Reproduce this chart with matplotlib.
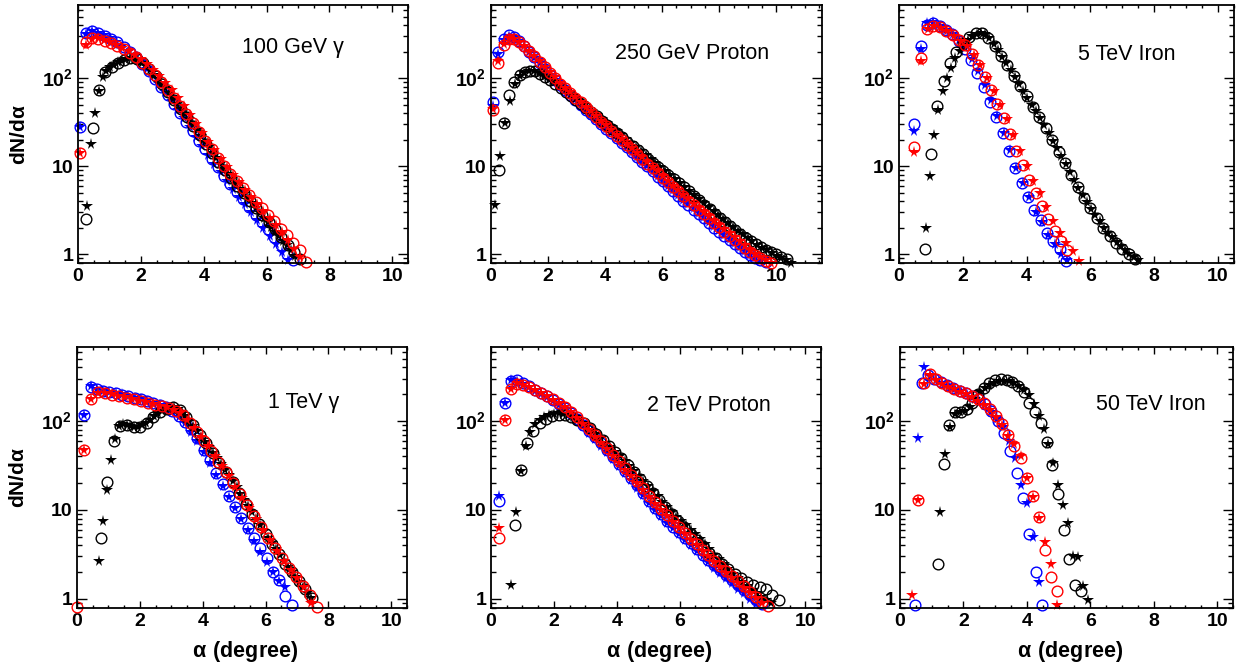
import matplotlib
matplotlib.use('Agg')
import matplotlib.pyplot as plt
from matplotlib.ticker import MultipleLocator, FixedLocator, FixedFormatter, LogLocator, NullFormatter

plt.rcParams['font.family'] = ['Liberation Sans', 'DejaVu Sans']
plt.rcParams['font.weight'] = 'bold'
plt.rcParams['mathtext.fontset'] = 'custom'
plt.rcParams['mathtext.rm'] = 'Liberation Sans'
plt.rcParams['mathtext.bf'] = 'Liberation Sans:bold'

# Every series: (first bin centre, bin width, dN/dalpha per bin)

# 100 GeV gamma
g100_blue_o = (0.05, 0.20, [28, 325, 345, 330, 305, 280, 255, 228, 200, 172, 145, 120, 98, 80, 64, 51, 40, 32,
                            25, 19.5, 15.5, 12.2, 9.8, 7.8, 6.3, 5.1, 4.2, 3.4, 2.8, 2.3, 1.9, 1.55, 1.25, 1.0, 0.85])
g100_blue_s = (0.05, 0.195, [28, 320, 340, 330, 308, 283, 258, 232, 205, 178, 152, 127, 105, 86, 69, 55, 44, 35,
                             27.5, 21.5, 17, 13.5, 10.7, 8.5, 6.8, 5.5, 4.5, 3.7, 3.0, 2.45, 2.0, 1.62, 1.3, 1.05, 0.86])
g100_red_o = (0.05, 0.20, [14, 255, 285, 282, 268, 250, 232, 212, 192, 172, 150, 128, 108, 90, 74, 60, 48, 39, 31,
                           24.5, 19.5, 15.5, 12.5, 10.0, 8.2, 6.8, 5.6, 4.7, 3.9, 3.3, 2.8, 2.35, 1.95, 1.65, 1.35, 1.1, 0.82])
g100_red_s = (0.05, 0.195, [14, 240, 280, 285, 272, 255, 238, 220, 202, 184, 165, 145, 125, 106, 89, 74, 60, 48, 38.5,
                            30.5, 24, 19, 15.2, 12.2, 9.8, 8.0, 6.6, 5.4, 4.5, 3.7, 3.1, 2.6, 2.15, 1.8, 1.45, 1.15, 0.93])
g100_black_o = (0.27, 0.20, [2.5, 27, 73, 118, 135, 150, 162, 170, 165, 148, 126, 105, 86, 70, 56, 45, 36, 28.5, 22.5,
                             17.8, 14, 11.2, 9, 7.3, 6.0, 4.9, 4.0, 3.3, 2.75, 2.3, 1.9, 1.55, 1.28, 1.05, 0.88])
g100_black_s = (0.28, 0.125, [3.5, 18, 40, 72, 103, 122, 133, 143, 151, 158, 164, 168, 167, 160, 150, 137, 124, 110,
                              98, 87, 77, 67, 58, 51, 44.5, 39, 34, 29.5, 25.5, 22, 19, 16.5, 14.2, 12.3, 10.7, 9.3,
                              8.1, 7.1, 6.2, 5.5, 4.85, 4.3, 3.8, 3.35, 2.95, 2.6, 2.3, 2.05, 1.8, 1.6, 1.42, 1.26,
                              1.1, 0.95])

# 250 GeV proton
p250_blue_o = (0.08, 0.18, [53, 200, 280, 312, 295, 265, 232, 200, 172, 148, 127, 110, 96, 84, 74, 65, 57, 50, 44, 39,
                            34, 30, 26.5, 23.5, 20.8, 18.4, 16.3, 14.4, 12.7, 11.2, 9.9, 8.7, 7.6, 6.7, 5.9, 5.2, 4.6,
                            4.05, 3.6, 3.2, 2.85, 2.55, 2.25, 2.0, 1.8, 1.6, 1.45, 1.3, 1.17, 1.06, 0.97, 0.9, 0.85, 0.82])
p250_blue_s = (0.08, 0.18, [48, 190, 275, 305, 292, 262, 230, 199, 171, 147, 126, 109, 95, 83, 73, 64, 56.5, 49.5,
                            43.5, 38.5, 34, 30, 26.5, 23.5, 20.8, 18.4, 16.3, 14.4, 12.7, 11.2, 9.9, 8.7, 7.7, 6.8, 6.0,
                            5.3, 4.7, 4.15, 3.7, 3.3, 2.95, 2.62, 2.33, 2.08, 1.86, 1.66, 1.49, 1.34, 1.2, 1.08, 0.98,
                            0.9, 0.84])
p250_red_o = (0.08, 0.18, [44, 150, 240, 280, 278, 258, 232, 205, 178, 154, 133, 115, 100, 87, 77, 68, 60, 53, 46.5,
                           41, 36, 32, 28.3, 25, 22.2, 19.7, 17.5, 15.5, 13.7, 12.1, 10.7, 9.5, 8.4, 7.4, 6.55, 5.8,
                           5.15, 4.55, 4.05, 3.6, 3.2, 2.85, 2.55, 2.27, 2.02, 1.8, 1.62, 1.45, 1.3, 1.17, 1.06, 0.97,
                           0.9, 0.84, 0.8])
p250_red_s = (0.08, 0.18, [45, 158, 245, 285, 280, 260, 233, 206, 180, 156, 135, 117, 102, 89, 78, 69, 61, 54, 47.5,
                           42, 37, 32.5, 29, 25.7, 22.8, 20.2, 18, 16, 14.2, 12.6, 11.1, 9.8, 8.7, 7.7, 6.8, 6.0, 5.3,
                           4.7, 4.2, 3.75, 3.35, 3.0, 2.68, 2.4, 2.15, 1.93, 1.73, 1.55, 1.39, 1.25, 1.12, 1.01, 0.92,
                           0.85, 0.8])
p250_black_o = (0.28, 0.18, [9.1, 31, 65, 90, 108, 118, 122, 120, 113, 104, 95, 86, 78, 70, 63, 57, 51, 46, 41.5, 37,
                             33, 29.5, 26.5, 23.8, 21.3, 19, 17, 15.2, 13.6, 12.2, 10.9, 9.8, 8.8, 7.9, 7.1, 6.4, 5.75,
                             5.15, 4.6, 4.1, 3.65, 3.25, 2.88, 2.56, 2.3, 2.07, 1.87, 1.69, 1.53, 1.4, 1.3, 1.2, 1.12,
                             1.05, 0.99, 0.93, 0.87])
p250_black_s = (0.15, 0.17, [3.6, 13, 31, 55, 85, 105, 116, 121, 120, 115, 107, 99, 91, 83, 76, 69, 63, 57, 52, 47,
                             42.5, 38.5, 34.5, 31, 28, 25.2, 22.7, 20.4, 18.4, 16.6, 15, 13.5, 12.1, 10.9, 9.8, 8.8,
                             7.9, 7.1, 6.4, 5.75, 5.2, 4.65, 4.2, 3.8, 3.4, 3.05, 2.75, 2.48, 2.25, 2.03, 1.85, 1.68,
                             1.53, 1.4, 1.28, 1.18, 1.1, 1.02, 0.96, 0.9, 0.85, 0.8])

# 5 TeV iron
f5_blue_o = (0.48, 0.198, [30, 235, 405, 425, 390, 350, 315, 265, 213, 160, 115, 80, 54, 36, 23.5, 15, 9.6, 6.4, 4.5,
                           3.2, 2.45, 1.75, 1.42, 1.13, 0.84])
f5_blue_s = (0.48, 0.20, [25, 215, 420, 440, 395, 355, 318, 270, 218, 165, 120, 83, 56, 37, 24, 15.2, 9.5, 6.5, 4.4,
                          3.0, 2.3, 1.65, 1.3, 1.0, 0.85])
f5_red_o = (0.48, 0.20, [16.5, 170, 365, 392, 380, 345, 308, 272, 238, 190, 143, 103, 74, 51, 35, 23, 15, 10.3, 7.0,
                         4.9, 3.5, 2.5, 1.85, 1.42, 1.12])
f5_red_s = (0.48, 0.207, [14.5, 155, 360, 395, 375, 340, 305, 268, 232, 185, 140, 100, 72, 50, 34, 22.5, 14.8, 10,
                          6.8, 5.0, 3.4, 2.4, 1.75, 1.35, 1.08, 0.83])
f5_black_o = (0.80, 0.20, [1.13, 13.9, 48, 93, 150, 200, 250, 295, 330, 330, 290, 230, 180, 140, 106, 81, 62, 47, 36,
                           27, 20, 14.5, 10.8, 7.9, 5.8, 4.3, 3.3, 2.55, 2.0, 1.62, 1.35, 1.15, 1.0, 0.87])
f5_black_s = (0.835, 0.133, [2.0, 7.8, 22.8, 43, 71, 100, 132, 168, 205, 240, 272, 300, 320, 330, 315, 285, 245, 208,
                             176, 148, 124, 103, 86, 72, 60, 50, 42, 35, 29, 24, 19.5, 16, 13, 10.6, 8.6, 7.0, 5.7,
                             4.7, 3.9, 3.25, 2.75, 2.35, 2.0, 1.75, 1.55, 1.38, 1.24, 1.12, 1.01, 0.92, 0.85])

# 1 TeV gamma
g1_blue_o = (0.23, 0.20, [116, 242, 228, 218, 212, 205, 198, 190, 182, 175, 167, 160, 152, 143, 130, 115, 98, 82, 65,
                          47, 36, 26, 19.5, 14.5, 10.8, 8.2, 6.3, 4.8, 3.7, 2.85, 2.0, 1.65, 1.08, 0.86])
g1_blue_s = (0.23, 0.20, [118, 245, 230, 220, 213, 206, 199, 191, 183, 176, 168, 160, 152, 143, 128, 112, 94, 76, 60,
                          45, 34, 25, 18.5, 14, 10.5, 8, 6, 4.5, 3.4, 2.6, 2.0, 1.6, 1.35])
g1_red_o = (0.0, 0.225, [0.81, 47, 178, 210, 205, 198, 190, 183, 175, 168, 160, 153, 146, 140, 131, 116, 96, 76, 60,
                         46, 35, 27, 20, 15, 11.3, 8.5, 6.4, 4.9, 3.7, 2.85, 2.2, 1.75, 1.4, 1.1, 0.82])
g1_red_s = (0.225, 0.219, [47, 178, 209, 205, 199, 191, 184, 176, 169, 162, 155, 148, 142, 134, 122, 104, 84, 67, 52,
                           40, 31, 24, 18, 13.7, 10.4, 7.9, 6.0, 4.6, 3.5, 2.7, 2.1, 1.7, 1.35, 0.9])
g1_black_o = (0.75, 0.21, [4.8, 20.4, 60, 88, 90, 86, 86, 95, 110, 125, 137, 142, 132, 112, 90, 70, 56, 44, 34, 26.5,
                           20.5, 15.5, 11.8, 9.0, 6.9, 5.3, 4.1, 3.2, 2.5, 2.0, 1.6, 1.3, 1.02])
g1_black_s = (0.70, 0.125, [2.7, 7.5, 16.8, 36.5, 63, 89, 92, 90, 87, 85, 86, 90, 96, 104, 113, 122, 130, 137, 141,
                            142, 137, 127, 114, 100, 88, 77, 67, 58, 51, 44, 38, 33, 28.5, 24.5, 21, 18, 15.3, 13,
                            11.1, 9.4, 8, 6.8, 5.8, 4.9, 4.2, 3.6, 3.1, 2.65, 2.3, 2.0, 1.75, 1.55, 1.35, 1.18, 1.02])

# 2 TeV proton
p2_blue_o = (0.27, 0.19, [12.5, 160, 285, 290, 268, 245, 225, 207, 190, 172, 157, 140, 122, 106, 90, 77, 66, 56, 47,
                          39, 33, 27.5, 23, 19, 15.5, 12.7, 10.6, 9.0, 7.6, 6.5, 5.6, 4.85, 4.2, 3.65, 3.15, 2.75, 2.4,
                          2.1, 1.85, 1.62, 1.42, 1.25, 1.1, 0.98, 0.87])
p2_blue_s = (0.27, 0.19, [14.3, 161, 290, 285, 262, 240, 220, 203, 186, 169, 153, 136, 118, 102, 87, 74, 63, 53, 44.5,
                          37, 31, 26, 21.5, 17.8, 14.6, 12, 10, 8.5, 7.2, 6.2, 5.3, 4.6, 4.0, 3.45, 3.0, 2.6, 2.25,
                          1.97, 1.72, 1.5, 1.3, 1.15, 1.0, 0.88])
p2_red_o = (0.27, 0.19, [4.9, 102, 228, 262, 255, 240, 222, 205, 190, 175, 160, 144, 127, 110, 95, 81, 69, 59, 50, 42,
                         35.5, 30, 25, 21, 17.5, 14.5, 12.2, 10.3, 8.8, 7.5, 6.4, 5.5, 4.75, 4.1, 3.55, 3.1, 2.7,
                         2.35, 2.05, 1.8, 1.57, 1.38, 1.2, 1.05, 0.93, 0.83])
p2_red_s = (0.27, 0.19, [6.3, 103, 230, 265, 257, 241, 223, 206, 190, 174, 158, 142, 125, 108, 93, 79, 67, 57, 48,
                         40.5, 34, 28.5, 24, 20, 16.8, 14, 11.8, 10, 8.5, 7.3, 6.2, 5.3, 4.6, 4.0, 3.45, 3.0, 2.6,
                         2.27, 1.98, 1.73, 1.5, 1.32, 1.16, 1.02, 0.9])
p2_black_o = (0.75, 0.20, [6.7, 28, 57, 78, 95, 106, 113, 117, 116, 111, 104, 95, 83, 71, 61, 52, 45, 38, 32, 27, 22.5,
                           18.8, 15.7, 13, 10.8, 9.0, 7.6, 6.4, 5.4, 4.6, 3.9, 3.3, 2.85, 2.45, 2.15, 1.9, 1.7, 1.55,
                           1.42, 1.35, 1.28, 1.1, 0.97])
p2_black_s = (0.65, 0.15, [1.44, 9.5, 27.7, 52, 76, 92, 104, 112, 118, 121, 122, 120, 116, 110, 103, 96, 88, 80, 72,
                           64, 57, 51, 45, 40, 35.5, 31.5, 27.5, 24, 21, 18.5, 16.2, 14.2, 12.4, 10.8, 9.4, 8.4, 7.6,
                           6.8, 6.0, 5.3, 4.7, 4.1, 3.6, 3.15, 2.8, 2.45, 2.15, 1.92, 1.72, 1.55, 1.4, 1.27, 1.16,
                           1.06, 0.98, 0.9])

# 50 TeV iron
f50_blue_o = (0.48, 0.20, [0.85, 270, 330, 300, 275, 255, 235, 220, 205, 190, 175, 155, 130, 100, 73, 46, 26, 13.6,
                           5.4, 2.0, 0.85])
f50_blue_s = (0.58, 0.19, [64, 405, 320, 290, 265, 245, 228, 215, 200, 185, 170, 150, 128, 105, 85, 60, 38, 19, 12,
                           5.0, 1.55])
f50_red_o = (0.57, 0.19, [13.1, 265, 340, 295, 268, 248, 232, 218, 205, 190, 175, 158, 138, 115, 92, 70, 52, 38, 23,
                          14.3, 8.25, 3.55, 1.78, 1.23])
f50_red_s = (0.38, 0.19, [1.1, 12.8, 260, 330, 290, 262, 244, 228, 214, 200, 186, 170, 152, 132, 110, 90, 68, 55, 40,
                          23, 13.9, 8.1, 4.4, 2.45, 0.86])
f50_black_o = (1.20, 0.18, [2.5, 33, 90, 125, 128, 135, 160, 200, 235, 265, 290, 300, 290, 275, 250, 210, 160, 125, 95,
                            58, 32, 15, 6.0, 2.8, 1.45, 1.22])
f50_black_s = (1.27, 0.155, [9.4, 43, 86, 120, 128, 130, 145, 175, 210, 235, 255, 270, 280, 285, 280, 270, 250, 225,
                             195, 155, 115, 82, 55, 34, 19, 11.5, 7.2, 3.0, 2.95, 1.4, 0.98])

# label, x range and the six curves of each pad
pads = [
    ('100 GeV \u03b3', 10.5, [g100_blue_o, g100_blue_s, g100_black_o, g100_black_s, g100_red_o, g100_red_s]),
    ('250 GeV Proton', 11.6, [p250_blue_o, p250_blue_s, p250_black_o, p250_black_s, p250_red_o, p250_red_s]),
    ('5 TeV Iron', 10.5, [f5_blue_o, f5_blue_s, f5_black_o, f5_black_s, f5_red_o, f5_red_s]),
    ('1 TeV \u03b3', 10.5, [g1_blue_o, g1_blue_s, g1_black_o, g1_black_s, g1_red_o, g1_red_s]),
    ('2 TeV Proton', 10.5, [p2_blue_o, p2_blue_s, p2_black_o, p2_black_s, p2_red_o, p2_red_s]),
    ('50 TeV Iron', 10.5, [f50_blue_o, f50_blue_s, f50_black_o, f50_black_s, f50_red_o, f50_red_s]),
]

colors = ['blue', 'blue', 'black', 'black', 'red', 'red']
markers = ['o', '*', 'o', '*', 'o', '*']

# pad frames in pixels (left, top, right, bottom) and label anchors
W, H = 1247, 667
frames = [(78, 5, 408, 263), (491, 5, 822, 263), (899, 5, 1234, 263),
          (77, 347, 407, 608), (491, 347, 821, 608), (900, 347, 1233, 608)]
label_pos = [(0.497, 0.814), (0.375, 0.79), (0.534, 0.787),
             (0.579, 0.766), (0.473, 0.753), (0.589, 0.758)]

fig = plt.figure(figsize=(W / 100, H / 100), dpi=100)

for k, (name, xmax, curves) in enumerate(pads):
    l, t, r, b = frames[k]
    ax = fig.add_axes([l / W, 1 - b / H, (r - l) / W, (b - t) / H])
    ax.set_yscale('log')
    ax.set_xlim(0, xmax)
    ax.set_ylim(0.79, 680)

    for (x0, dx, ys), c, m in zip(curves, colors, markers):
        xs = [x0 + dx * i for i in range(len(ys))]
        if m == 'o':
            ax.plot(xs, ys, ls='none', marker='o', ms=7.7, mfc='none', mec=c, mew=1.0, clip_on=False)
        else:
            ax.plot(xs, ys, ls='none', marker='*', ms=8.5, color=c, mew=0, clip_on=False)

    ax.xaxis.set_major_locator(MultipleLocator(2))
    ax.xaxis.set_minor_locator(MultipleLocator(0.5))
    ax.yaxis.set_major_locator(FixedLocator([1, 10, 100]))
    ax.yaxis.set_major_formatter(FixedFormatter(['1', '10', r'$\mathbf{10}^{2}$']))
    ax.yaxis.set_minor_locator(LogLocator(base=10, subs=range(2, 10)))
    ax.yaxis.set_minor_formatter(NullFormatter())
    ax.tick_params(which='both', direction='in', top=True, right=True, width=1.0, labelsize=14)
    ax.tick_params(axis='x', which='major', length=5, pad=3.5)
    ax.tick_params(axis='x', which='minor', length=2.5)
    ax.tick_params(axis='y', which='major', length=7, pad=3.5)
    ax.tick_params(axis='y', which='minor', length=3.5)
    for s in ax.spines.values():
        s.set_linewidth(1.3)

    ax.text(label_pos[k][0], label_pos[k][1], name, transform=ax.transAxes,
            fontsize=15.5, fontweight='normal', ha='left', va='baseline')

    if k % 3 == 0:
        ax.text(-0.178, 0.5, r'$\mathbf{dN/d}\mathrm{α}$', transform=ax.transAxes, rotation=90,
                fontsize=15, ha='center', va='center')
    if k >= 3:
        ax.text(0.51, -0.165, r'$\mathrm{α}\ \mathbf{(degree)}$', transform=ax.transAxes,
                fontsize=15.5, ha='center', va='center')

fig.savefig('out.png', dpi=100)
